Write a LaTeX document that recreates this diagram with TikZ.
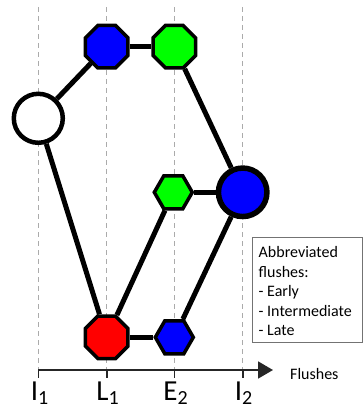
\documentclass[tikz,border=0pt]{standalone}
\usepackage{fontspec}
\setmainfont{Carlito}
\usetikzlibrary{shapes.geometric,arrows.meta,backgrounds}
\begin{document}
\begin{tikzpicture}[x=1pt,y=-1pt,
  oct/.style={regular polygon,regular polygon sides=8,draw=black,line width=3.5pt,minimum size=46pt,inner sep=0pt},
  hexa/.style={regular polygon,regular polygon sides=6,draw=black,line width=3.5pt,minimum size=38pt,inner sep=0pt},
  bigcirc/.style={circle,draw=black,inner sep=0pt},
  edge/.style={line width=5pt,black},
  guide/.style={draw=black!33,line width=1.3pt,dash pattern=on 5pt off 4pt},
  tick/.style={draw=black!85,line width=1.6pt},
  axislabel/.style={font=\fontsize{29}{29}\selectfont,anchor=base,inner sep=0pt},
  legtext/.style={font=\fontsize{16}{19}\selectfont,anchor=base west,inner sep=0pt}
]
\useasboundingbox (0,0) rectangle (363,409);
\definecolor{pblue}{RGB}{0,0,255}
\definecolor{pgreen}{RGB}{0,255,0}
\definecolor{pred}{RGB}{255,0,0}

% axis coordinates
\coordinate (t1) at (38.3,7);   \coordinate (b1) at (38.3,374);
\coordinate (t2) at (106.7,7);  \coordinate (b2) at (106.7,374);
\coordinate (t3) at (174.3,7);  \coordinate (b3) at (174.3,374);
\coordinate (t4) at (242.7,7);  \coordinate (b4) at (242.7,374);
\coordinate (a0) at (38.3,370); \coordinate (a1) at (273,370);

% nodes
\node[bigcirc,fill=white,line width=4.5pt,minimum size=49pt] (S) at (38.3,118.3) {};
\node[oct,fill=pblue] (B1) at (106.7,46.7) {};
\node[oct,fill=pgreen] (G1) at (174.3,46.7) {};
\node[hexa,fill=pgreen] (G2) at (173.3,192.3) {};
\node[bigcirc,fill=pblue,line width=5.5pt,minimum size=48.5pt] (C) at (242.7,192.3) {};
\node[oct,fill=pred] (R) at (106.7,337.3) {};
\node[hexa,fill=pblue] (B2) at (174.3,337.3) {};

\begin{scope}[on background layer]
  \foreach \i in {1,2,3,4} {\draw[guide] (t\i) -- (b\i);}
  \draw[edge] (S) -- (B1);
  \draw[edge] (B1) -- (G1);
  \draw[edge] (G1) -- (C);
  \draw[edge] (S) -- (R);
  \draw[edge] (R) -- (G2);
  \draw[edge] (G2) -- (C);
  \draw[edge] (R) -- (B2);
  \draw[edge] (B2) -- (C);
\end{scope}

% axis
\draw[line width=1.8pt,black!85,-{Triangle[length=15pt,width=17pt]}] (a0) -- (a1);
\foreach \i in {1,2,3,4} {\draw[tick] ([yshift=4pt]b\i) -- ([yshift=-4pt]b\i);}
\node[font=\fontsize{16}{19}\selectfont,anchor=base west,inner sep=0pt] (fl) at (290,379.5) {Flushes};

\node[axislabel] (l1) at (39.5,400.5) {I\raisebox{-4pt}{\fontsize{20}{20}\selectfont 1}};
\node[axislabel] (l2) at (107.5,400.5) {L\raisebox{-4pt}{\fontsize{20}{20}\selectfont 1}};
\node[axislabel] (l3) at (175.5,400.5) {E\raisebox{-4pt}{\fontsize{20}{20}\selectfont 2}};
\node[axislabel] (l4) at (243.5,400.5) {I\raisebox{-4pt}{\fontsize{20}{20}\selectfont 2}};

% legend
\draw[draw=black!55,line width=0.9pt] (252.3,237.3) rectangle (362.5,342.3);
\node[legtext] (g1) at (258.5,257.5) {Abbreviated};
\node[legtext] (g2) at (258.5,277) {flushes:};
\node[legtext] (g3) at (258.5,296.5) {- Early};
\node[legtext] (g4) at (258.5,316) {- Intermediate};
\node[legtext] (g5) at (258.5,335.5) {- Late};
\end{tikzpicture}
\end{document}
